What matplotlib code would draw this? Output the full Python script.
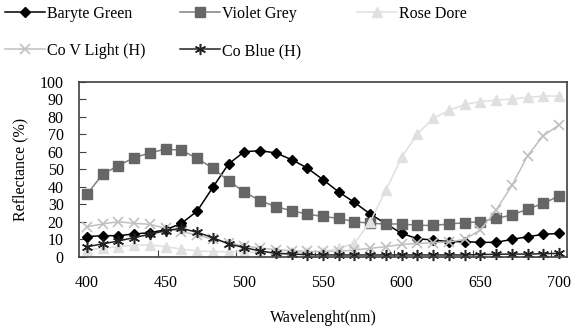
import matplotlib
matplotlib.use("Agg")
import matplotlib.pyplot as plt

plt.rcParams['font.family'] = ['Liberation Serif', 'DejaVu Serif']

wavelengths = [400, 410, 420, 430, 440, 450, 460, 470, 480, 490, 500,
               510, 520, 530, 540, 550, 560, 570, 580, 590, 600,
               610, 620, 630, 640, 650, 660, 670, 680, 690, 700]
baryte_green = [11.5, 12, 12, 13, 13.7, 15.4, 19, 26, 39.6, 53, 60,
                60.6, 59.3, 55.5, 50.7, 44, 37, 31, 24.4, 18.8, 13.3,
                10.3, 9.5, 8.6, 8.6, 8.2, 8.2, 9.9, 11.4, 12.8, 13.3]
violet_grey = [35.6, 47.1, 52, 56.6, 59.3, 61.5, 60.8, 56.3, 50.5, 43.4, 37,
               32, 28.6, 26.3, 24.3, 23, 21.9, 20, 19.1, 18.7, 18.7,
               17.9, 17.9, 18.7, 19.4, 20, 21.9, 23.8, 27.2, 30.5, 34.7]
rose_dore = [4, 4.8, 5.7, 6.7, 6.7, 5.7, 4.4, 3.3, 2.9, 2.9, 2.7,
             2.6, 2.5, 2.5, 2.6, 2.9, 4.8, 7.6, 20, 38.1, 56.8,
             70.3, 79, 83.6, 87, 88.6, 89.5, 90.1, 91, 91.8, 91.8]
co_v_light = [17.1, 18.7, 20, 19.1, 18.5, 16.2, 14.3, 12.4, 10, 8, 6,
              5, 4, 3.5, 3, 3, 3, 3.8, 4.8, 5.7, 7,
              7.6, 8, 8.4, 9.9, 15.3, 26.7, 40.7, 57.8, 69.2, 75.3]
co_blue = [5.7, 7.3, 9, 10.9, 12.8, 14.9, 16.2, 14, 10.9, 7.3, 5.2,
           3.3, 1.9, 1.5, 1.2, 1, 1, 1, 1, 1, 1,
           1, 1, 1, 1, 1.2, 1.4, 1.5, 1.5, 1.7, 1.9]

series = [
    ("Baryte Green", baryte_green, dict(color='black', marker='D', ms=5.5, mfc='black', mec='black')),
    ("Violet Grey", violet_grey, dict(color='#808080', marker='s', ms=6.5, mfc='#666666', mec='#666666')),
    ("Rose Dore", rose_dore, dict(color='#e0e0e0', marker='^', ms=7.5, mfc='#e0e0e0', mec='#e0e0e0')),
    ("Co V Light (H)", co_v_light, dict(color='#c0c0c0', marker='x', ms=7, mew=1.2)),
    ("Co Blue (H)", co_blue, dict(color='#222222', marker=(6, 2, 0), ms=8, mew=1.1)),
]

fig = plt.figure(figsize=(5.76, 3.31), dpi=100)
ax = fig.add_axes([79 / 576, (331 - 256.7) / 331, 488 / 576, 175 / 331])

x = list(range(len(wavelengths)))
handles = []
for name, vals, style in series:
    h, = ax.plot(x, vals, lw=1.1, label=name, clip_on=False, **style)
    handles.append(h)

ax.set_xlim(-0.5, len(wavelengths) - 0.5)
ax.set_ylim(0, 100)
ax.set_yticks(range(0, 101, 10))

# tick marks between categories, labels on every 5th category
ax.set_xticks([i + 4.5 for i in range(0, 26, 5)])
ax.set_xticklabels([])
ax.set_xticks(x[::5], labels=[str(w) for w in wavelengths[::5]], minor=True)
ax.tick_params(axis='x', which='major', direction='in', length=5, color='#404040')
ax.tick_params(axis='x', which='minor', length=0, pad=13, labelsize=11.5)
ax.tick_params(axis='y', direction='in', length=5, color='#404040', pad=11, labelsize=11.5)

for sp in ax.spines.values():
    sp.set_color('#404040')
    sp.set_linewidth(1.2)

ax.set_xlabel("Wavelenght(nm)", fontsize=11.5, labelpad=14)
ax.set_ylabel("Reflectance (%)", fontsize=11.5, labelpad=8)

# legend entries placed like the original (three columns, two rows)
positions = [(5, 14), (180, 14), (357, 14), (5, 51), (180, 51)]
for h, (px, py) in zip(handles, positions):
    fig.legend([h], [h.get_label()], loc='center left',
               bbox_to_anchor=(px / 576, 1 - py / 331), frameon=False,
               fontsize=11.5, handlelength=2.5, handletextpad=0.15,
               borderpad=0, borderaxespad=0)

fig.savefig("out.png", dpi=100)
